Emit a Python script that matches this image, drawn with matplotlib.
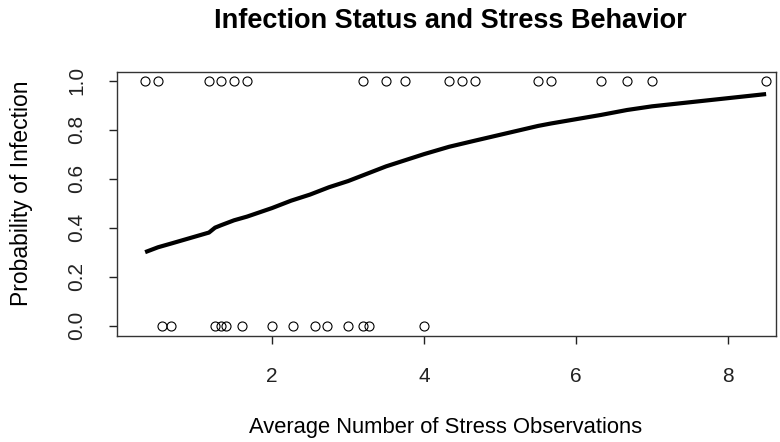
import numpy as np
import matplotlib
matplotlib.use("Agg")
import matplotlib.pyplot as plt

plt.rcParams['font.family'] = ['Liberation Sans', 'DejaVu Sans']

# infected (y = 1) observations
x_inf = [0.33, 0.5, 1.17, 1.33, 1.5, 1.67, 3.2, 3.5, 3.75, 4.33, 4.5, 4.67,
         5.5, 5.67, 6.33, 6.67, 7.0, 8.5]
# not infected (y = 0) observations
x_not = [0.55, 0.67, 1.25, 1.33, 1.4, 1.6, 2.0, 2.28, 2.57, 2.72, 3.0, 3.2,
         3.27, 4.0]

# fitted probability curve
curve_x = [0.33, 0.5, 0.67, 1.17, 1.25, 1.33, 1.5, 1.67, 2.0, 2.25, 2.5, 2.75,
           3.0, 3.25, 3.5, 3.75, 4.0, 4.33, 4.67, 5.5, 5.67, 6.33, 6.67, 7.0, 8.5]
curve_p = [0.30, 0.32, 0.335, 0.38, 0.40, 0.41, 0.43, 0.445, 0.48, 0.51, 0.535,
           0.565, 0.59, 0.62, 0.65, 0.675, 0.70, 0.73, 0.755, 0.815, 0.825,
           0.86, 0.88, 0.895, 0.945]

fig = plt.figure(figsize=(7.8, 4.42), dpi=100)
ax = fig.add_axes([117/780, 1-336/442, (776-117)/780, (336-72)/442])

ax.plot(x_inf, np.ones(len(x_inf)), 'o', mfc='none', mec='black', ms=6.5, mew=0.8)
ax.plot(x_not, np.zeros(len(x_not)), 'o', mfc='none', mec='black', ms=6.5, mew=0.8)
ax.plot(curve_x, curve_p, color='black', lw=3, solid_capstyle='butt')

ax.set_xlim(-0.04, 8.63)
ax.set_ylim(-0.042, 1.035)
ax.set_xticks([2, 4, 6, 8])
ax.set_yticks([0.0, 0.2, 0.4, 0.6, 0.8, 1.0])
ax.set_yticklabels(['0.0', '0.2', '0.4', '0.6', '0.8', '1.0'])
ax.tick_params(axis='both', length=6, width=1, colors='#222222', labelsize=15)
ax.tick_params(axis='x', pad=16)
ax.tick_params(axis='y', pad=16, labelrotation=90)
for lbl in ax.get_yticklabels():
    lbl.set_va('center')
for s in ax.spines.values():
    s.set_color('#333333')
    s.set_linewidth(1)

fig.text(450/780, 1-21/442, 'Infection Status and Stress Behavior',
         ha='center', va='center', fontsize=19.5, fontweight='bold')
fig.text(446/780, 1-428/442, 'Average Number of Stress Observations',
         ha='center', va='center', fontsize=15.8)
fig.text(22/780, 1-193/442, 'Probability of Infection', rotation=90,
         ha='center', va='center', fontsize=16.5)

fig.savefig('out.png', dpi=100)
